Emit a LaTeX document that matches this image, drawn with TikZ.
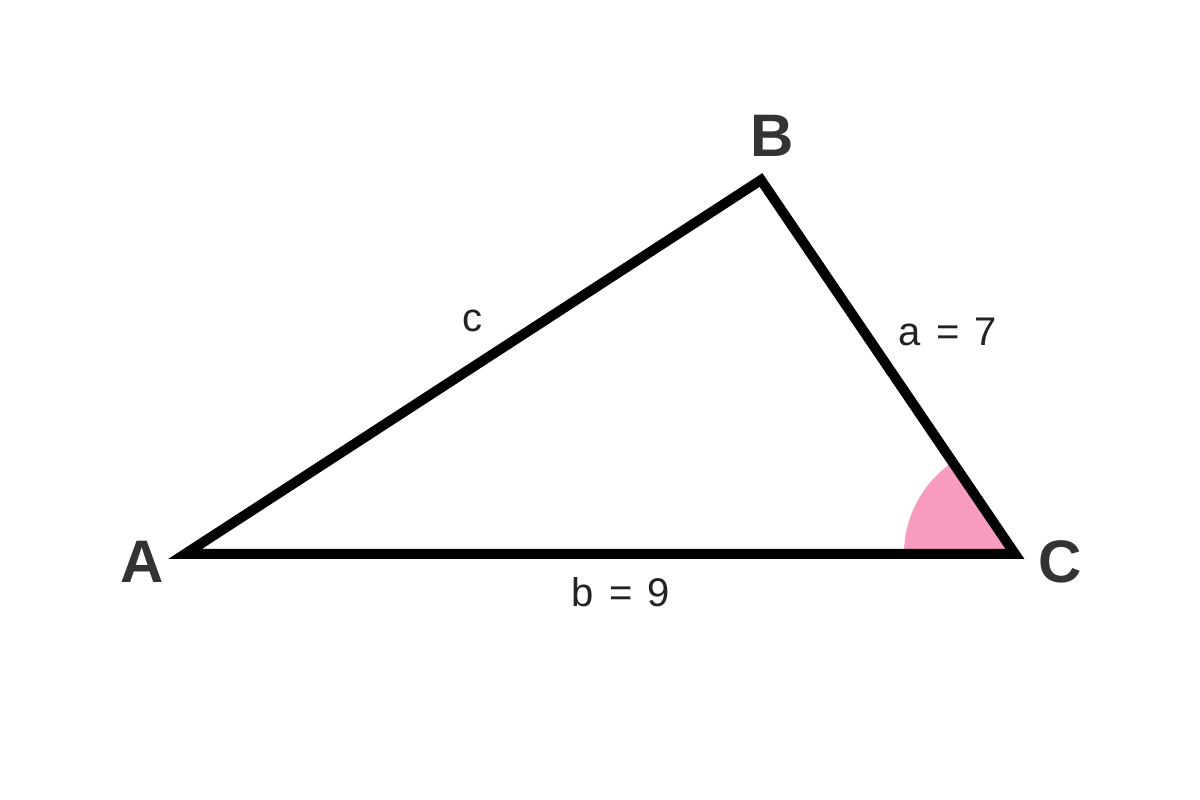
\documentclass[tikz,border=0pt]{standalone}
\usepackage{fontspec}
\setmainfont{Liberation Sans}
\begin{document}
\begin{tikzpicture}[x=1pt,y=1pt,
  vlabel/.style={inner sep=0pt,anchor=base,text=vcol,font=\fontsize{60}{60}\selectfont\bfseries},
  elabel/.style={inner sep=0pt,anchor=base,text=ecol,font=\fontsize{40}{40}\selectfont},
  side/.style={line width=10pt,line join=miter,draw=black}]
\definecolor{vcol}{HTML}{333333}
\definecolor{ecol}{HTML}{222222}
\definecolor{anglepink}{HTML}{F89BC1}
\useasboundingbox (0,0) rectangle (1200,800);
\coordinate (A) at (185,246);
\coordinate (B) at (761,620);
\coordinate (C) at (1015,246);
\fill[anglepink] (C) -- ++(124.2:111pt) arc[start angle=124.2,end angle=180,radius=111pt] -- cycle;
\draw[side] (A) -- (B) -- (C) -- cycle;
\node[vlabel] (lA) at (142,217) {A};
\node[vlabel] (lB) at (772,643) {B};
\node[vlabel] (lC) at (1060,217) {C};
\node[elabel] (lc) at (472,468) {c};
\node[elabel] (la) at (948,454) {a\hspace{0.38em}=\hspace{0.38em}7};
\node[elabel] (lb) at (621,193) {b\hspace{0.38em}=\hspace{0.38em}9};
\end{tikzpicture}
\end{document}
